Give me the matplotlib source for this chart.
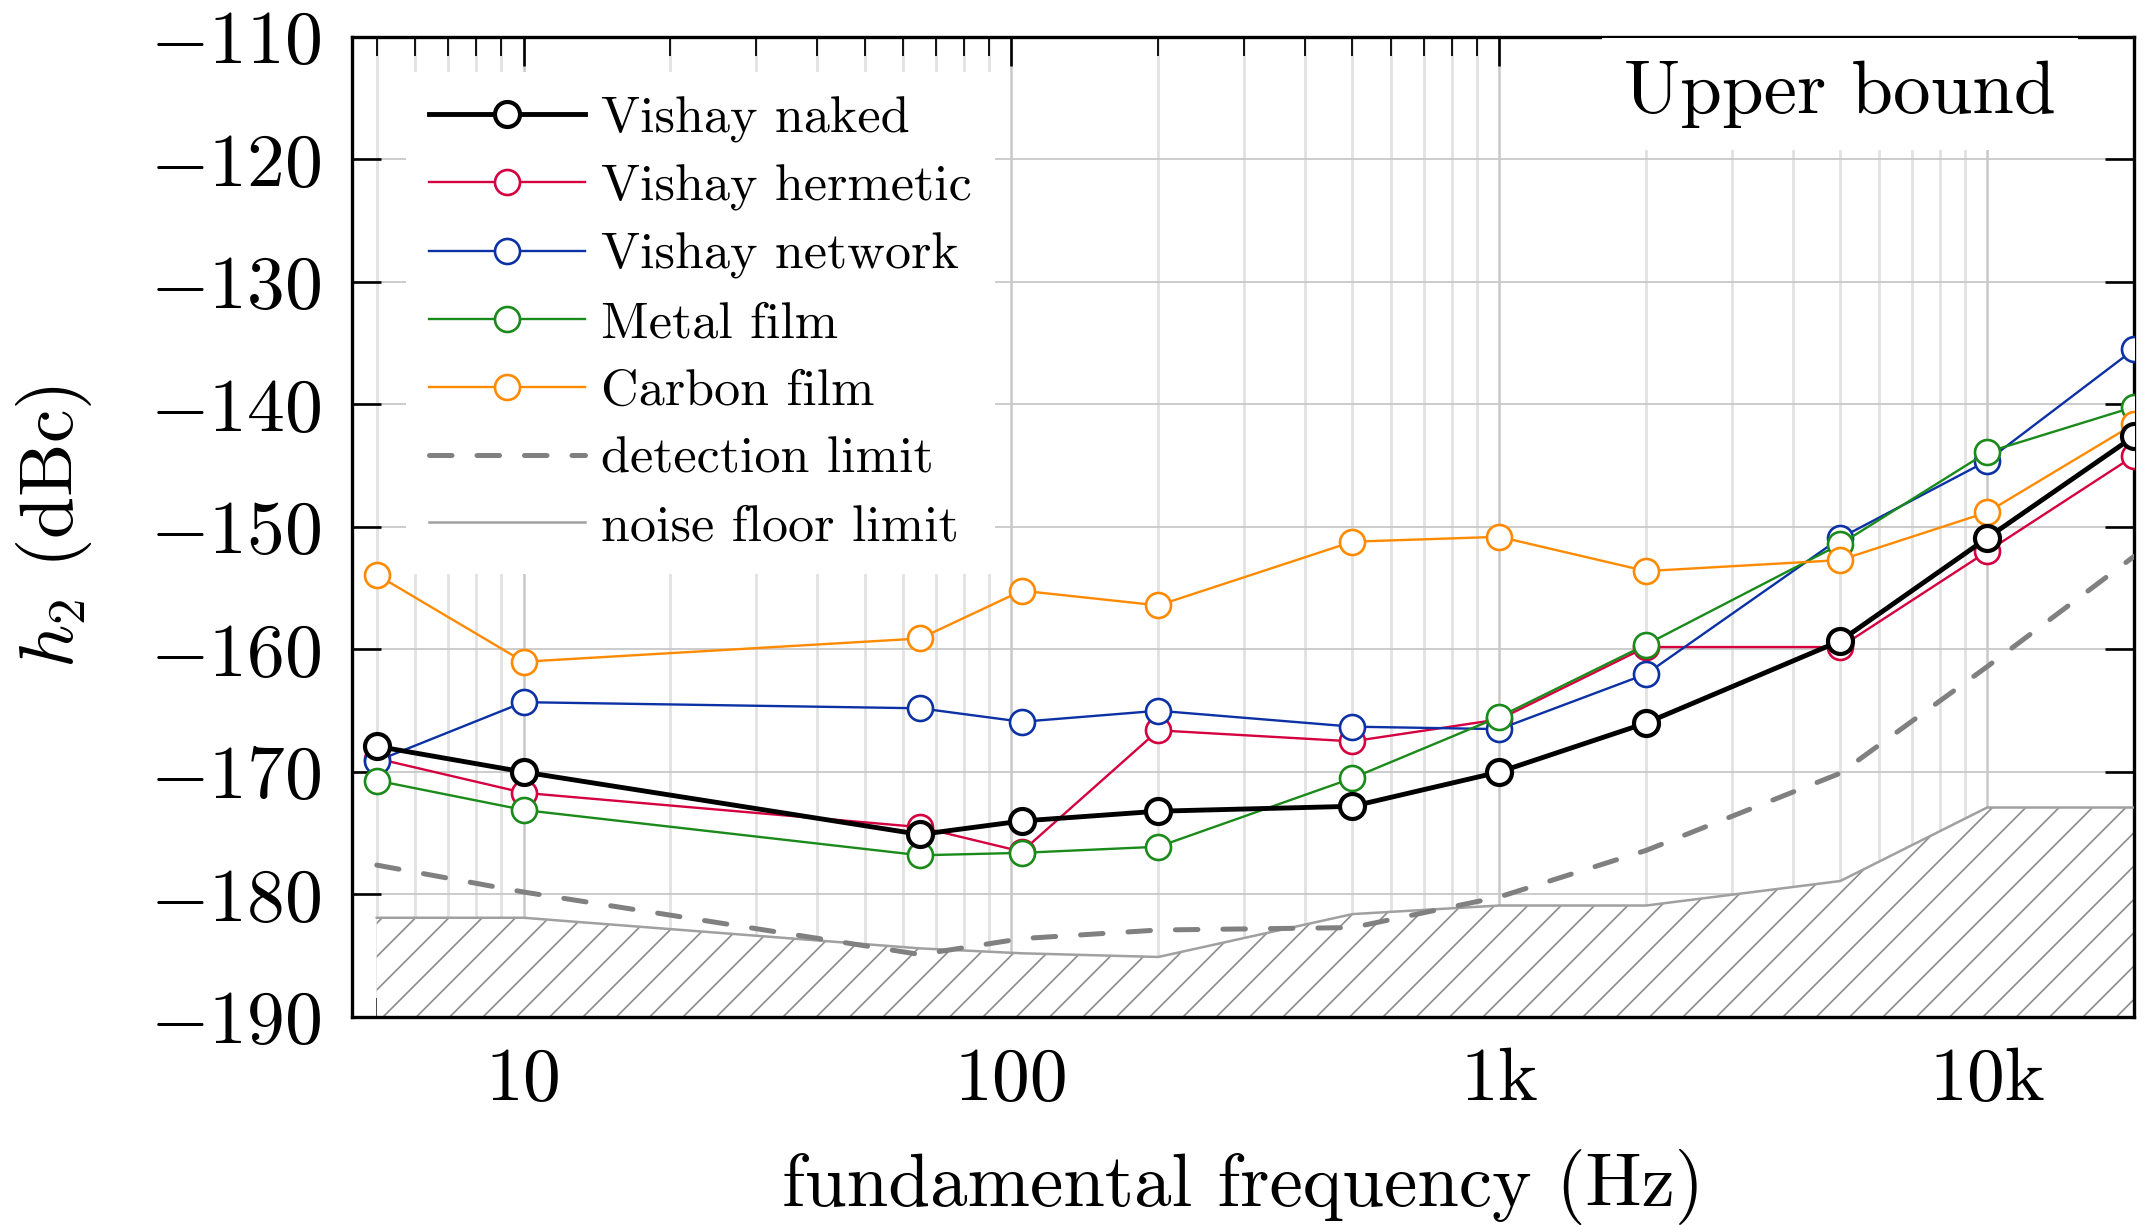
import numpy as np
import matplotlib
matplotlib.use('Agg')
import matplotlib.pyplot as plt
from matplotlib.ticker import FixedLocator, LogLocator, NullFormatter

plt.rcParams['font.family'] = 'cmr10'
plt.rcParams['mathtext.fontset'] = 'cm'
plt.rcParams['axes.unicode_minus'] = False
plt.rcParams['hatch.linewidth'] = 1.2
plt.rcParams['hatch.color'] = '#8c8c8c'

# data (Hz, dBc)
freq = [5, 10, 65, 105, 200, 500, 1000, 2000, 5000, 10000, 20000]
naked = [-167.9, -170.0, -175.1, -174.0, -173.2, -172.8, -170.0, -166.0, -159.3, -150.9, -142.6]
hermetic = [-168.9, -171.7, -174.5, -176.5, -166.6, -167.5, -165.7, -159.8, -159.8, -152.0, -144.2]
network = [-169.1, -164.3, -164.8, -165.9, -165.0, -166.3, -166.5, -162.0, -150.9, -144.6, -135.5]
metal = [-170.7, -173.1, -176.8, -176.6, -176.1, -170.5, -165.5, -159.6, -151.4, -143.9, -140.2]
carbon = [-153.9, -161.0, -159.1, -155.2, -156.4, -151.2, -150.8, -153.6, -152.7, -148.8, -141.6]
detection = [-177.6, -179.8, -184.9, -183.6, -182.9, -182.7, -180.2, -176.4, -170.1, -161.4, -152.4]
noise = [-181.9, -181.9, -184.4, -184.8, -185.1, -181.6, -180.9, -180.9, -178.9, -172.9, -172.9]

xticks = [10, 100, 1000, 10000]
xticklabels = ['10', '100', '1k', '10k']
yticks = [-190, -180, -170, -160, -150, -140, -130, -120, -110]

fig = plt.figure(figsize=(21.56, 12.25), dpi=100)
ax = fig.add_axes([0.1633, 0.1698, 0.8265, 0.800])

ax.fill_between(freq, noise, -190, facecolor='white', edgecolor='#8c8c8c',
                hatch='/', linewidth=0, zorder=1)
ax.plot(freq, naked, '-o', color='black', lw=3.5, ms=18, mew=3.0, mfc='white',
        label='Vishay naked', zorder=6)
ax.plot(freq, hermetic, '-o', color='#d4003f', lw=1.7, ms=18, mew=1.9, mfc='white',
        label='Vishay hermetic', zorder=5)
ax.plot(freq, network, '-o', color='#0b31a5', lw=1.7, ms=18, mew=1.9, mfc='white',
        label='Vishay network', zorder=5)
ax.plot(freq, metal, '-o', color='#1a8a1a', lw=1.7, ms=18, mew=1.9, mfc='white',
        label='Metal film', zorder=5)
ax.plot(freq, carbon, '-o', color='#ff8a00', lw=1.7, ms=18, mew=1.9, mfc='white',
        label='Carbon film', zorder=5)
ax.plot(freq, detection, color='#808080', lw=3.6, dashes=(4.5, 5), dash_capstyle='round',
        label='detection limit', zorder=4)
ax.plot(freq, noise, color='#a0a0a0', lw=1.8, label='noise floor limit', zorder=3)

ax.set_xscale('log')
ax.set_xlim(4.45, 20000)
ax.set_ylim(-190, -110)

ax.xaxis.set_major_locator(FixedLocator(xticks))
ax.xaxis.set_minor_locator(LogLocator(base=10, subs=np.arange(2, 10), numticks=50))
ax.xaxis.set_minor_formatter(NullFormatter())
ax.set_xticklabels(xticklabels)
ax.set_yticks(yticks)
ax.set_yticklabels(['$-%d$' % abs(v) for v in yticks])

ax.set_axisbelow(True)
ax.grid(which='major', axis='x', color='#c8c8c8', lw=1.8)
ax.grid(which='major', axis='y', color='#c8c8c8', lw=1.3)
ax.grid(which='minor', axis='x', color='#e2e2e2', lw=2.0)

ax.tick_params(which='both', direction='in', top=True, right=True, labelsize=54.5)
ax.tick_params(which='major', length=21, width=1.9, pad=22)
ax.tick_params(which='minor', length=14, width=1.3)
for s in ax.spines.values():
    s.set_linewidth(2.4)

ax.set_xlabel('fundamental frequency (Hz)', fontsize=54)
ax.set_ylabel('$h_2$ (dBc)', fontsize=54.5)
ax.xaxis.set_label_coords(0.5, -0.135)
ax.yaxis.set_label_coords(-0.145, 0.5)

leg = ax.legend(loc='upper left', bbox_to_anchor=(0.03, 0.964), borderaxespad=0,
                fontsize=37.5, frameon=True, fancybox=False, framealpha=1,
                edgecolor='none', facecolor='white', handlelength=3.0,
                handletextpad=0.3, labelspacing=0.41, borderpad=0.45, numpoints=1)
leg.set_zorder(7)

ax.text(0.835, 0.942, 'Upper bound', transform=ax.transAxes, fontsize=54,
        ha='center', va='center', zorder=7,
        bbox=dict(boxstyle='square,pad=0.3', facecolor='white', edgecolor='none'))

fig.savefig('out.png', dpi=100)
